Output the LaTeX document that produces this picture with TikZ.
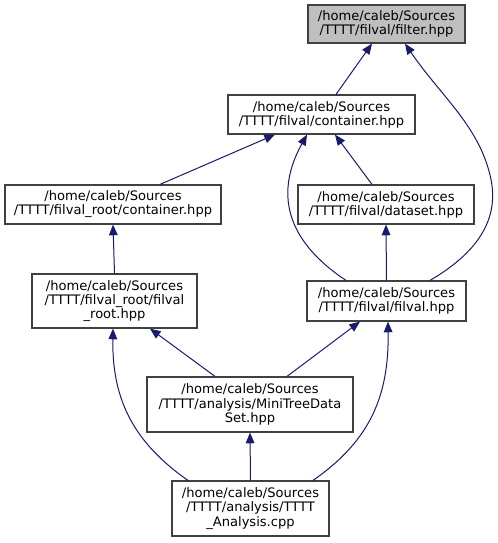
\documentclass[tikz,border=0pt]{standalone}
\usepackage{fontspec}
\setmainfont{DejaVu Sans}
\usetikzlibrary{arrows.meta,calc}
\definecolor{edgeblue}{HTML}{191970}
\definecolor{boxline}{HTML}{404040}
\definecolor{rootfill}{HTML}{BFBFBF}
\begin{document}
\begin{tikzpicture}[x=0.75pt,y=-0.75pt,
  box/.style={draw=boxline,line width=0.9pt,fill=white,inner sep=0pt,align=center,
    font=\fontsize{9.8pt}{10.6pt}\selectfont},
  rootbox/.style={box,fill=rootfill},
  edge/.style={draw=edgeblue,line width=0.75pt,-{Triangle[length=8pt,width=6.5pt]}}]
\useasboundingbox (0,0) rectangle (497,543);
\node[rootbox,minimum width=117.75pt,minimum height=28.5pt] (filter) at (386.5,24) {/home/caleb/Sources\\/TTTT/filval/filter.hpp};
\node[box,minimum width=140.25pt,minimum height=29.25pt] (container) at (321.5,114.5) {/home/caleb/Sources\\/TTTT/filval/container.hpp};
\node[box,minimum width=162pt,minimum height=29.25pt] (frcont) at (113,204.5) {/home/caleb/Sources\\/TTTT/filval\_root/container.hpp};
\node[box,minimum width=132pt,minimum height=29.25pt] (dataset) at (386,204.5) {/home/caleb/Sources\\/TTTT/filval/dataset.hpp};
\node[box,minimum width=119.25pt,minimum height=30pt] (filval) at (386.5,301) {/home/caleb/Sources\\/TTTT/filval/filval.hpp};
\node[box,minimum width=123.75pt,minimum height=40.5pt] (frfr) at (114.5,301) {/home/caleb/Sources\\/TTTT/filval\_root/filval\\\_root.hpp};
\node[box,minimum width=154.5pt,minimum height=41.25pt] (mini) at (250,404.5) {/home/caleb/Sources\\/TTTT/analysis/MiniTreeData\\Set.hpp};
\node[box,minimum width=117.75pt,minimum height=41.25pt] (tttt) at (250.5,508.5) {/home/caleb/Sources\\/TTTT/analysis/TTTT\\\_Analysis.cpp};
% edges
\draw[edge] ($(container.north)+(14.5,0)$) -- ($(filter.south)+(-14.5,0)$);
\draw[edge] ($(filval.north)+(43.5,0)$) .. controls (482,250) and (500,215) .. (490,175) .. controls (478,125) and (440,95) .. ($(filter.south)+(18.5,0)$);
\draw[edge] ($(frcont.north)+(47,0)$) -- ($(container.south)+(-46.5,0)$);
\draw[edge] ($(filval.north)+(-40.5,0)$) .. controls (300,250) and (268,205) .. ($(container.south)+(-14.5,0)$);
\draw[edge] ($(dataset.north)+(-14,0)$) -- ($(container.south)+(13.5,0)$);
\draw[edge] (frfr.north) -- (frcont.south);
\draw[edge] (filval.north) -- (dataset.south);
\draw[edge] ($(mini.north)+(-35,0)$) -- ($(frfr.south)+(35.5,0)$);
\draw[edge] ($(mini.north)+(37,0)$) -- ($(filval.south)+(-26.5,0)$);
\draw[edge] (tttt.north) -- (mini.south);
\draw[edge] ($(tttt.north)+(-62.5,0)$) .. controls (130,440) and (112,395) .. ($(frfr.south)+(-1.5,0)$);
\draw[edge] ($(tttt.north)+(62.5,0)$) .. controls (371,440) and (389,395) .. ($(filval.south)+(1.5,0)$);
\end{tikzpicture}
\end{document}
